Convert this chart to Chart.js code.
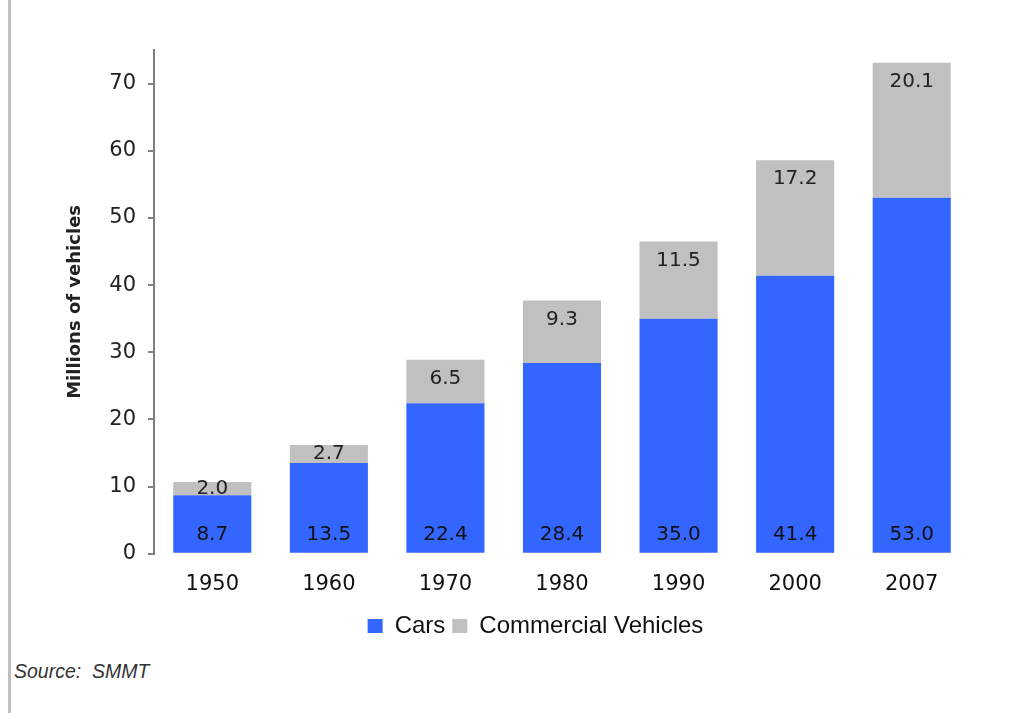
<!DOCTYPE html>
<html>
<head>
<meta charset="utf-8">
<script src="https://cdn.jsdelivr.net/npm/chart.js@4.4.1/dist/chart.umd.min.js"></script>
<style>
    html, body { margin: 0; padding: 0; background: #fff; }
    #wrap { position: relative; width: 1033px; height: 713px; }
    #leftline { position: absolute; left: 8px; top: 0; width: 3px; height: 713px; background: #c0c0c0; }
    #chart-box { position: absolute; left: 0; top: 0; width: 1033px; height: 648px; }
    #source { position: absolute; left: 14px; top: 660px; font: italic 19.5px "Liberation Sans", Arial, sans-serif; color: #333; }
</style>
</head>
<body>
<div id="wrap">
    <div id="leftline"></div>
    <div id="chart-box"><canvas id="vehicle-chart"></canvas></div>
    <div id="source">Source:&nbsp; SMMT</div>
</div>
<script>
/* Chart data */
const years = ['1950', '1960', '1970', '1980', '1990', '2000', '2007'];
const cars = [8.7, 13.5, 22.4, 28.4, 35.0, 41.4, 53.0];
const commercial = [2.0, 2.7, 6.5, 9.3, 11.5, 17.2, 20.1];

const BLUE = '#3366FF';
const GREY = '#C0C0C0';
const FONT = '"DejaVu Sans", Verdana, sans-serif';

/* Draw the value labels inside each bar segment */
const barLabels = {
    id: 'barLabels',
    afterDatasetsDraw(chart) {
        const ctx = chart.ctx;
        ctx.save();
        ctx.font = '20px ' + FONT;
        ctx.textAlign = 'center';
        ctx.textBaseline = 'middle';

        ctx.fillStyle = '#111';
        chart.getDatasetMeta(0).data.forEach((bar, i) => {
            ctx.fillText(cars[i].toFixed(1), bar.x, bar.base - 18);
        });
        ctx.fillStyle = '#222';
        chart.getDatasetMeta(1).data.forEach((bar, i) => {
            const mid = (bar.y + bar.base) / 2;
            ctx.fillText(commercial[i].toFixed(1), bar.x, Math.min(bar.y + 19, mid));
        });
        ctx.restore();
    }
};

/* Nudge the legend a little right, like the original */
const legendShift = {
    id: 'legendShift',
    afterLayout(chart) {
        const lg = chart.legend;
        lg.left += 18;
        lg.right += 18;
    }
};

function initVehicleChart() {
    const ctx = document.getElementById('vehicle-chart');
    return new Chart(ctx, {
        type: 'bar',
        data: {
            labels: years,
            datasets: [{
                label: 'Cars',
                data: cars,
                backgroundColor: BLUE,
                barPercentage: 0.67,
                categoryPercentage: 1.0
            }, {
                label: 'Commercial Vehicles',
                data: commercial,
                backgroundColor: GREY,
                barPercentage: 0.67,
                categoryPercentage: 1.0
            }]
        },
        options: {
            responsive: true,
            maintainAspectRatio: false,
            animation: false,
            layout: { padding: { left: 65, right: 63, top: 50, bottom: 0 } },
            plugins: {
                tooltip: { enabled: false },
                legend: {
                    position: 'bottom',
                    labels: {
                        boxWidth: 15,
                        boxHeight: 14,
                        padding: 7,
                        color: '#111',
                        font: { family: '"Liberation Sans", Arial, sans-serif', size: 24 }
                    }
                }
            },
            scales: {
                x: {
                    stacked: true,
                    grid: { display: false },
                    border: { display: false },
                    ticks: {
                        color: '#111',
                        padding: 10,
                        font: { family: FONT, size: 21 }
                    }
                },
                y: {
                    stacked: true,
                    min: 0,
                    max: 75,
                    afterBuildTicks: (scale) => {
                        scale.ticks = scale.ticks.filter(t => t.value % 10 === 0);
                    },
                    afterFit: (scale) => { scale.width = 89; },
                    grid: {
                        drawOnChartArea: false,
                        tickLength: 6,
                        color: '#808080',
                        lineWidth: 2
                    },
                    border: { color: '#808080', width: 2 },
                    title: {
                        display: true,
                        text: 'Millions of vehicles',
                        color: '#222',
                        padding: 0,
                        font: { family: FONT, size: 18, weight: 'bold' }
                    },
                    ticks: {
                        stepSize: 10,
                        color: '#222',
                        padding: 12,
                        font: { family: FONT, size: 21 }
                    }
                }
            }
        },
        plugins: [barLabels, legendShift]
    });
}

const vehicleChart = initVehicleChart();
</script>
</body>
</html>
